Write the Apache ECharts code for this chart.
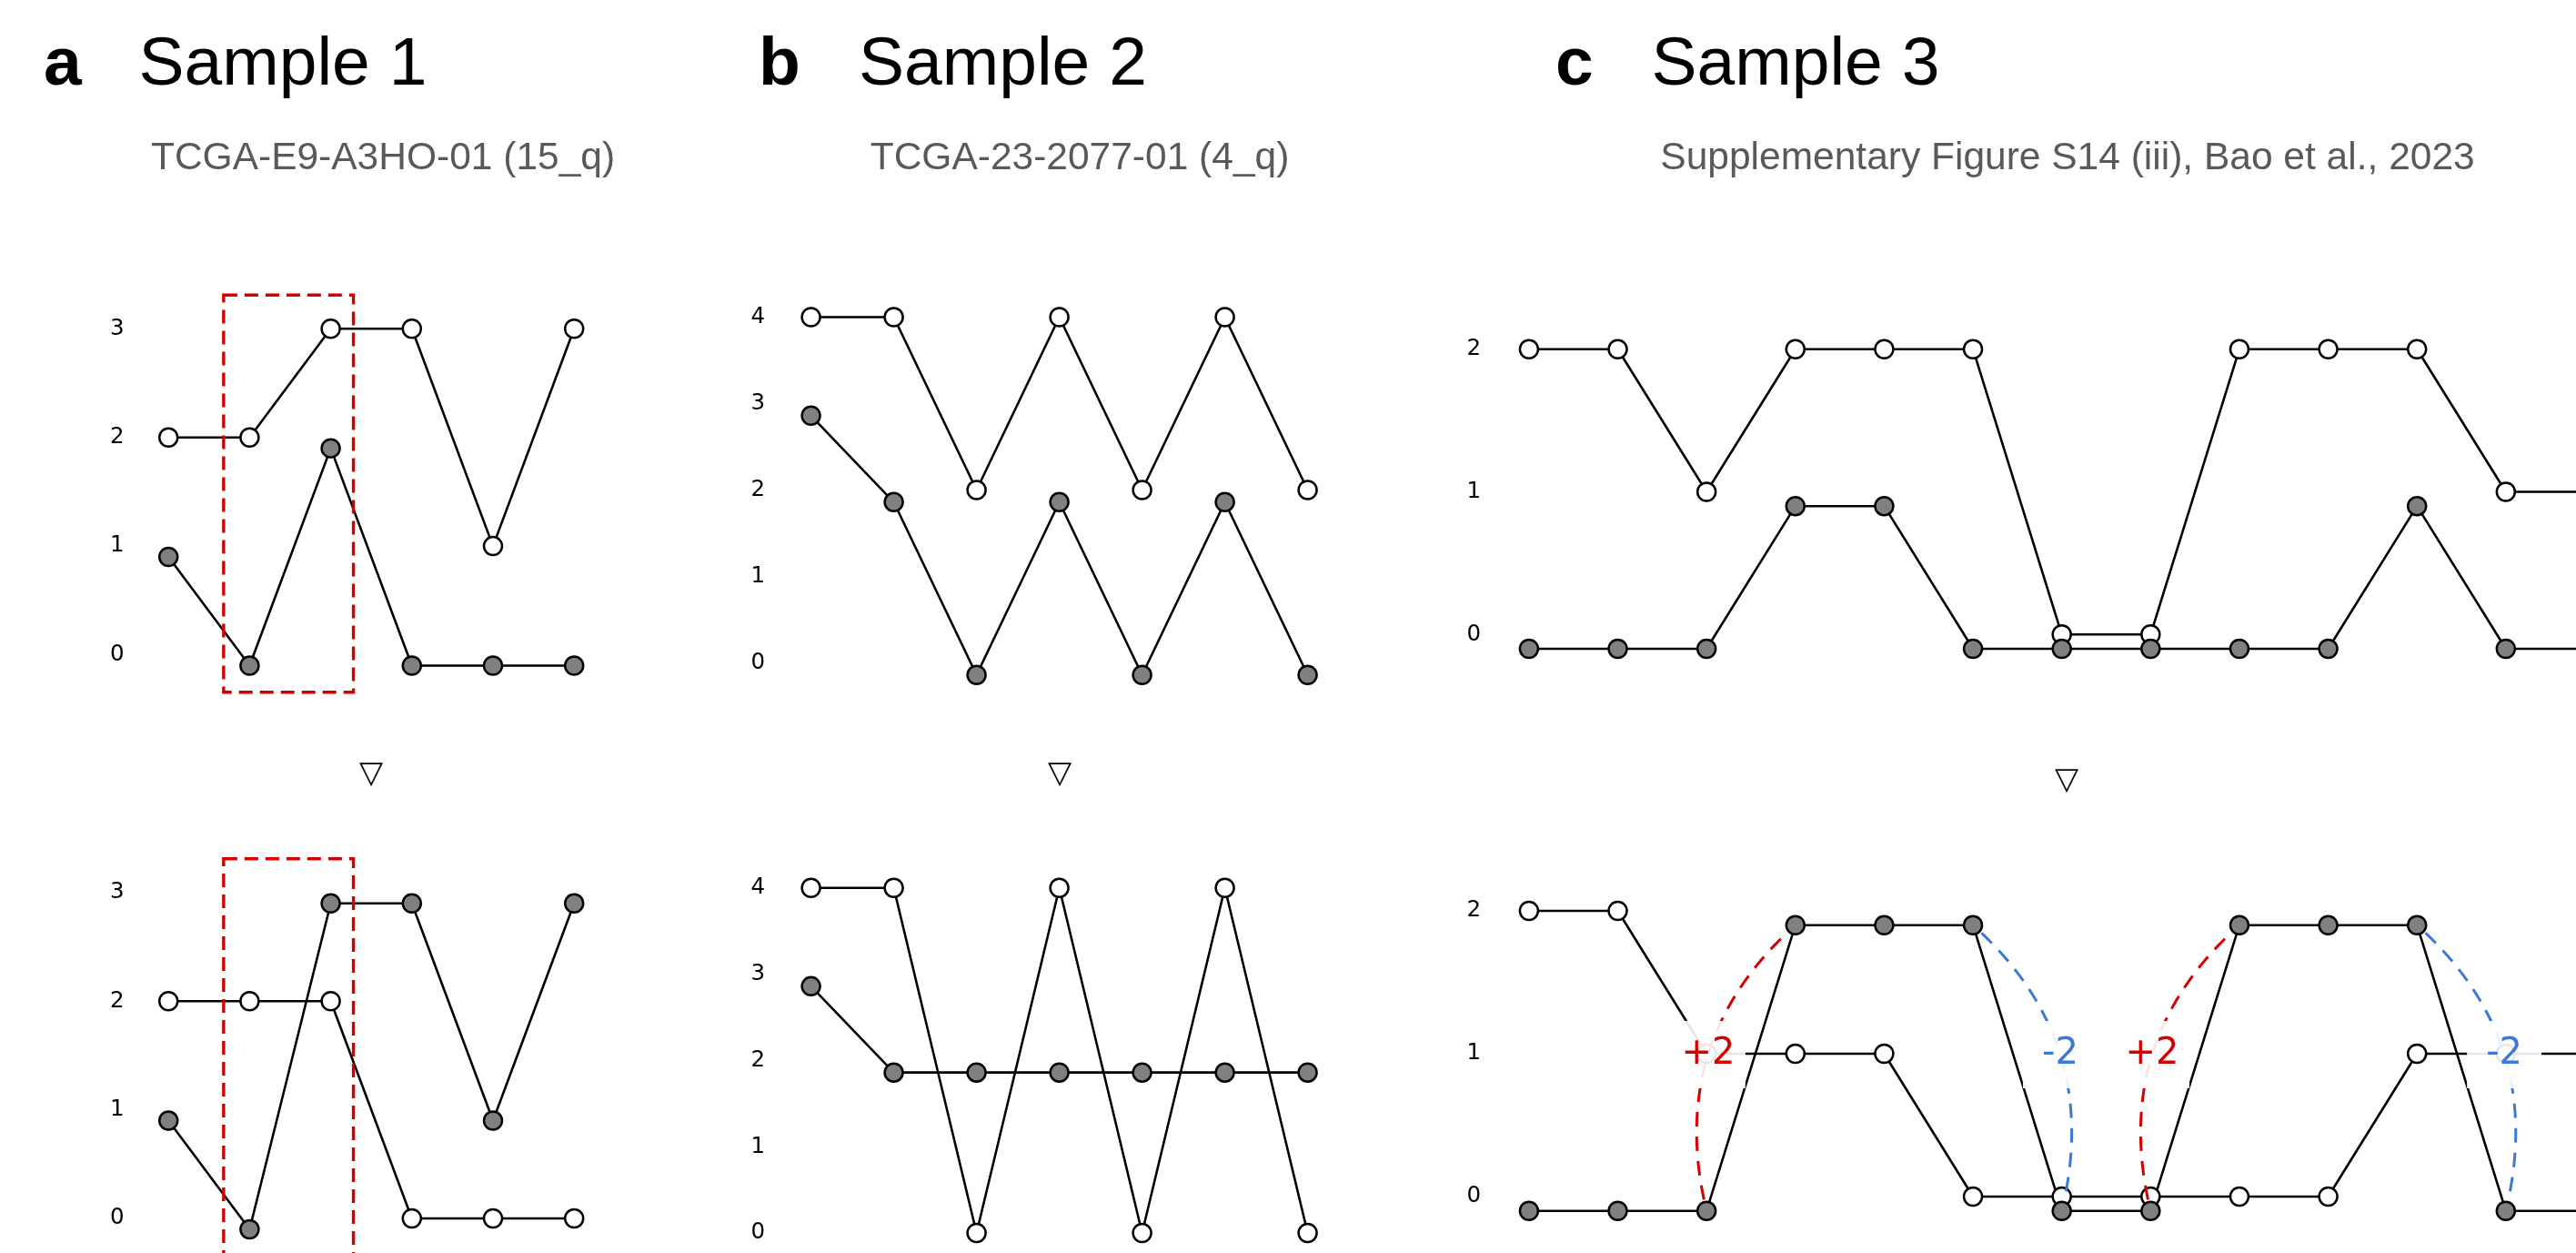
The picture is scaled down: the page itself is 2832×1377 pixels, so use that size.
<!DOCTYPE html>
<html>
<head>
<meta charset="utf-8">
<script src="https://cdn.jsdelivr.net/npm/echarts@6/dist/echarts.min.js"></script>
<style>
html,body{margin:0;padding:0;background:#ffffff;}
#chart{width:2832px;height:1377px;}
</style>
</head>
<body>
<div id="chart"></div>
<script>
// ---------------- data ----------------
// Sample 1 (panel a): top = before, bottom = after
const whiteA1 = [2, 2, 3, 3, 1, 3];
const grayA1  = [0.9, -0.1, 1.9, -0.1, -0.1, -0.1];
const whiteA2 = [2, 2, 2, 0, 0, 0];
const grayA2  = [0.9, -0.1, 2.9, 2.9, 0.9, 2.9];
// dashed highlight box in panel a: [xFrom, xTo, yFrom, yTo]
const rectA = [0.68, 2.28, -0.345, 3.31];

// Sample 2 (panel b)
const whiteB1 = [4, 4, 2, 4, 2, 4, 2];
const grayB1  = [2.86, 1.86, -0.14, 1.86, -0.14, 1.86, -0.14];
const whiteB2 = [4, 4, 0, 4, 0, 4, 0];
const grayB2  = [2.86, 1.86, 1.86, 1.86, 1.86, 1.86, 1.86];

// Sample 3 (panel c)
const whiteC1 = [2, 2, 1, 2, 2, 2, 0, 0, 2, 2, 2, 1, 1];
const grayC1  = [-0.1, -0.1, -0.1, 0.9, 0.9, -0.1, -0.1, -0.1, -0.1, -0.1, 0.9, -0.1, -0.1];
const whiteC2 = [2, 2, 1, 1, 1, 0, 0, 0, 0, 0, 1, 1, 1];
const grayC2  = [-0.1, -0.1, -0.1, 1.9, 1.9, 1.9, -0.1, -0.1, 1.9, 1.9, 1.9, -0.1, -0.1];
// change arcs in panel c (bottom): [from index, to index, label]
const arcsC = [[2, 3, '+2'], [5, 6, '-2'], [7, 8, '+2'], [10, 11, '-2']];

// tick labels
const yTicksA = [0, 1, 2, 3];
const yTicksB = [0, 1, 2, 3, 4];
const yTicksC = [0, 1, 2];

// texts
const panelLetters = ['a', 'b', 'c'];
const panelTitles = ['Sample 1', 'Sample 2', 'Sample 3'];
const panelSubtitles = ['TCGA-E9-A3HO-01 (15_q)', 'TCGA-23-2077-01 (4_q)', 'Supplementary Figure S14 (iii), Bao et al., 2023'];
const arrowGlyph = '\u25BD';

// ---------------- styles / layout ----------------
const RED = '#d40000';
const BLUE = '#3c78d8';
const GRAY = '#808080';

const chart = echarts.init(document.getElementById('chart'), null, {renderer: 'canvas', width: 2832, height: 1377});

const gridDefs = [
  {left: 140.6, top: 241.9, width: 535.2, height: 597},     // a top
  {left: 140.6, top: 861.4, width: 535.2, height: 597},     // a bottom
  {left: 846.1, top: 253.5, width: 637, height: 570},       // b top
  {left: 846.1, top: 881, width: 637, height: 568.8},       // b bottom
  {left: 1632.1, top: 226.9, width: 1366.8, height: 627.2}, // c top
  {left: 1632.1, top: 844, width: 1366.8, height: 628}      // c bottom
];
const xMax = [5.5, 5.5, 6.5, 6.5, 13.5, 13.5];
const tickSets = [yTicksA, yTicksA, yTicksB, yTicksB, yTicksC, yTicksC];
const labelMargins = [4, 4, 5, 5, 4, 4];

const grids = gridDefs.map(g => Object.assign({outerBoundsMode: 'none', containLabel: false}, g));
const xAxes = gridDefs.map((g, i) => ({
  type: 'value', gridIndex: i, min: -0.5, max: xMax[i], show: false
}));
const yAxes = gridDefs.map((g, i) => {
  const ticks = tickSets[i];
  return {
    type: 'value', gridIndex: i, min: -1, max: ticks[ticks.length - 1] + 1, interval: 1,
    axisLine: {show: false}, axisTick: {show: false}, splitLine: {show: false},
    axisLabel: {
      show: true, margin: labelMargins[i], color: '#000000',
      fontFamily: 'DejaVu Sans', fontSize: 24.5,
      formatter: v => (ticks.indexOf(v) >= 0 ? String(v) : '')
    }
  };
});

function pts(arr) { return arr.map((v, i) => [i, v]); }
function lineSeries(arr, fill, gi) {
  return {
    type: 'line', xAxisIndex: gi, yAxisIndex: gi, data: pts(arr),
    symbol: 'circle', symbolSize: 20, showAllSymbol: true,
    lineStyle: {color: '#000000', width: 2.6},
    itemStyle: {color: fill, borderColor: '#000000', borderWidth: 2.5},
    emphasis: {disabled: true}, silent: true, animation: false, z: 2
  };
}

const series = [];
const pairs = [[whiteA1, grayA1], [whiteA2, grayA2], [whiteB1, grayB1], [whiteB2, grayB2], [whiteC1, grayC1], [whiteC2, grayC2]];
pairs.forEach((p, gi) => {
  series.push(lineSeries(p[0], '#ffffff', gi));
  series.push(lineSeries(p[1], GRAY, gi));
});

// dashed red boxes in panel a
[0, 1].forEach(gi => {
  series.push({
    type: 'custom', xAxisIndex: gi, yAxisIndex: gi, data: [rectA], silent: true, animation: false, z: 5, clip: false,
    renderItem: function (params, api) {
      const tl = api.coord([api.value(0), api.value(3)]);
      const br = api.coord([api.value(1), api.value(2)]);
      return {
        type: 'rect',
        shape: {x: tl[0], y: tl[1], width: br[0] - tl[0], height: br[1] - tl[1]},
        style: {fill: 'none', stroke: RED, lineWidth: 3.4, lineDash: [15, 8]}
      };
    }
  });
});

// change arcs with labels in panel c bottom
series.push({
  type: 'custom', xAxisIndex: 5, yAxisIndex: 5, data: arcsC.map(a => [a[0], a[1]]),
  silent: true, animation: false, z: 6, clip: false,
  renderItem: function (params, api) {
    const a = arcsC[params.dataIndex];
    const p1 = api.coord([a[0], grayC2[a[0]]]);
    const p2 = api.coord([a[1], grayC2[a[1]]]);
    const k = 0.3;
    const mid = [(p1[0] + p2[0]) / 2, (p1[1] + p2[1]) / 2];
    const cp = [mid[0] + k * (p2[1] - p1[1]), mid[1] + k * (p1[0] - p2[0])];
    const r = 11;
    const points = [];
    for (let i = 0; i <= 120; i++) {
      const t = i / 120;
      const x = (1 - t) * (1 - t) * p1[0] + 2 * t * (1 - t) * cp[0] + t * t * p2[0];
      const y = (1 - t) * (1 - t) * p1[1] + 2 * t * (1 - t) * cp[1] + t * t * p2[1];
      const d1 = Math.hypot(x - p1[0], y - p1[1]);
      const d2 = Math.hypot(x - p2[0], y - p2[1]);
      if (d1 >= r && d2 >= r) points.push([x, y]);
    }
    const lm = [0.25 * p1[0] + 0.5 * cp[0] + 0.25 * p2[0], 0.25 * p1[1] + 0.5 * cp[1] + 0.25 * p2[1]];
    const color = a[2].charAt(0) === '+' ? RED : BLUE;
    return {
      type: 'group',
      children: [
        {type: 'polyline', shape: {points: points},
         style: {fill: 'none', stroke: color, lineWidth: 3, lineDash: [16, 11]}},
        {type: 'text', x: lm[0], y: lm[1], z2: 10,
         style: {text: a[2], fill: color, font: '40px "DejaVu Sans"',
                 align: 'center', verticalAlign: 'middle', textAlign: 'center', textVerticalAlign: 'middle',
                 backgroundColor: 'rgba(255,255,255,0.9)', padding: [17, 12], width: 58}}
      ]
    };
  }
});

// ---------------- text graphics ----------------
const letterX = [48, 834, 1710];
const titleX = [152.5, 944, 1815.5];
const subtitleX = [421, 1187, 2273];
const arrowX = [408, 1165, 2272];
const arrowY = [851, 851, 858];
const titleY = 72.5;
const subtitleY = 174.5;

const graphics = [];
for (let i = 0; i < 3; i++) {
  graphics.push({type: 'text', x: letterX[i], y: titleY, silent: true,
    style: {text: panelLetters[i], font: 'bold 75px "Liberation Sans"', fill: '#000000',
            align: 'left', verticalAlign: 'middle', textAlign: 'left', textVerticalAlign: 'middle'}});
  graphics.push({type: 'text', x: titleX[i], y: titleY, silent: true,
    style: {text: panelTitles[i], font: '75px "Liberation Sans"', fill: '#000000',
            align: 'left', verticalAlign: 'middle', textAlign: 'left', textVerticalAlign: 'middle'}});
  graphics.push({type: 'text', x: subtitleX[i], y: subtitleY, silent: true,
    style: {text: panelSubtitles[i], font: '42.5px "Liberation Sans"', fill: '#595959',
            align: 'center', verticalAlign: 'middle', textAlign: 'center', textVerticalAlign: 'middle'}});
  graphics.push({type: 'text', x: arrowX[i], y: arrowY[i], silent: true,
    style: {text: arrowGlyph, font: '34px "DejaVu Sans"', fill: '#000000',
            align: 'center', verticalAlign: 'middle', textAlign: 'center', textVerticalAlign: 'middle'}});
}

chart.setOption({
  backgroundColor: '#ffffff',
  animation: false,
  grid: grids,
  xAxis: xAxes,
  yAxis: yAxes,
  series: series,
  graphic: graphics
});
</script>
</body>
</html>
